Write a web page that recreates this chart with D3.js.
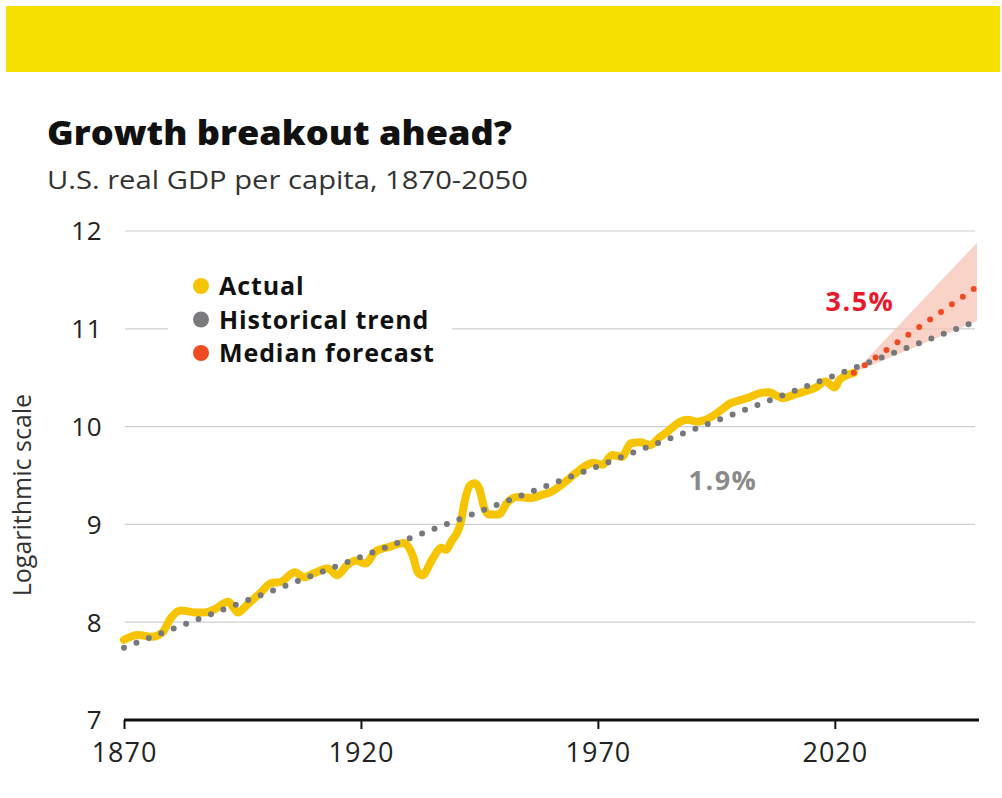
<!DOCTYPE html>
<html>
<head>
<meta charset="utf-8">
<script src="https://cdn.jsdelivr.net/npm/d3@7"></script>
<style>
  html, body { margin: 0; padding: 0; background: #fff; }
  svg { display: block; font-family: "Open Sans", Lato, sans-serif; }
</style>
</head>
<body>
<div id="wrapper"></div>
<script>
const width = 1002
const height = 798

// actual series (log of real GDP per capita)
const actualYears = [1870, 1873, 1876, 1878, 1880, 1882, 1885, 1887, 1889, 1892, 1894, 1896, 1899,
  1901, 1903, 1906, 1908, 1910, 1913, 1915, 1917, 1919, 1921, 1923, 1926, 1929, 1931, 1932, 1933,
  1935, 1937, 1938, 1939, 1941, 1942, 1943, 1944, 1945, 1946, 1947, 1949, 1951, 1953, 1956, 1958,
  1960, 1963, 1966, 1969, 1971, 1973, 1975, 1977, 1979, 1981, 1983, 1985, 1987, 1989, 1991, 1994,
  1996, 1998, 2000, 2002, 2004, 2006, 2008, 2009, 2011, 2013, 2016, 2018, 2020, 2021, 2024]
const actualValues = [7.82, 7.87, 7.85, 7.89, 8.05, 8.12, 8.10, 8.10, 8.13, 8.21, 8.10, 8.18, 8.31,
  8.40, 8.41, 8.51, 8.46, 8.50, 8.55, 8.48, 8.58, 8.63, 8.60, 8.72, 8.77, 8.81, 8.67, 8.51, 8.48,
  8.64, 8.76, 8.74, 8.82, 9.01, 9.26, 9.40, 9.42, 9.36, 9.17, 9.10, 9.10, 9.23, 9.28, 9.27, 9.30,
  9.33, 9.43, 9.55, 9.63, 9.61, 9.71, 9.69, 9.83, 9.84, 9.81, 9.89, 9.96, 10.04, 10.07, 10.05, 10.10,
  10.17, 10.24, 10.27, 10.30, 10.34, 10.35, 10.31, 10.29, 10.32, 10.35, 10.40, 10.46, 10.40, 10.48, 10.55]

const trendYears = [1870, 2050]
const trendValues = [7.74, 11.08]

const forecastYears = [2024, 2050]
const forecastValues = [10.55, 11.43]
const bandUpper = [10.55, 11.88]
const bandLower = [10.55, 11.08]

const yTicks = [7, 8, 9, 10, 11, 12]
const xTicks = [1870, 1920, 1970, 2020]

const legendLabels = ["Actual", "Historical trend", "Median forecast"]
const legendColors = ["#f6c400", "#7b7b7d", "#f04a23"]

const x = d3.scaleLinear().domain([1870, 2050]).range([124, 977])
const y = d3.scaleLinear().domain([7, 12]).range([720, 231])

const svg = d3.select("#wrapper").append("svg")
    .attr("width", width)
    .attr("height", height)

// yellow header band
svg.append("rect")
    .attr("x", 6).attr("y", 6)
    .attr("width", 994).attr("height", 66)
    .attr("fill", "#f5e000")

svg.append("text")
    .attr("x", 47).attr("y", 145)
    .attr("font-size", 34).attr("font-weight", 800)
    .attr("fill", "#111")
    .attr("textLength", 465).attr("lengthAdjust", "spacingAndGlyphs")
    .text("Growth breakout ahead?")

svg.append("text")
    .attr("x", 47).attr("y", 189)
    .attr("font-size", 25)
    .attr("fill", "#333")
    .attr("textLength", 481).attr("lengthAdjust", "spacingAndGlyphs")
    .text("U.S. real GDP per capita, 1870-2050")

// gridlines + y labels
const grid = svg.append("g")
grid.selectAll("line")
    .data(yTicks.filter(d => d > 7))
    .join("line")
    .attr("x1", 125).attr("x2", 975)
    .attr("y1", d => y(d)).attr("y2", d => y(d))
    .attr("stroke", "#cfcfcf").attr("stroke-width", 1.2)

grid.selectAll("text")
    .data(yTicks)
    .join("text")
    .attr("x", 102).attr("y", d => y(d))
    .attr("dy", "0.36em")
    .attr("text-anchor", "end")
    .attr("font-size", 26)
    .attr("letter-spacing", 0.5)
    .attr("fill", "#222")
    .text(d => d)

svg.append("text")
    .attr("transform", `translate(31, ${y(9.3)}) rotate(-90)`)
    .attr("text-anchor", "middle")
    .attr("font-size", 25)
    .attr("fill", "#333")
    .text("Logarithmic scale")

// x axis
const xAxis = d3.axisBottom(x).tickValues(xTicks).tickSize(9).tickFormat(d3.format("d"))
const gx = svg.append("g")
    .attr("transform", `translate(0, ${y(7)})`)
    .call(xAxis)
gx.select(".domain").attr("stroke", "#111").attr("stroke-width", 3)
    .attr("d", `M${x(1870)},0H${x(2050) + 2}`)
gx.selectAll(".tick line").attr("stroke", "#111").attr("stroke-width", 2)
gx.selectAll(".tick text")
    .attr("font-family", "'Open Sans', sans-serif")
    .attr("font-size", 27)
    .attr("letter-spacing", 1)
    .attr("fill", "#222")
    .attr("dy", "1.1em")

// forecast band
const band = d3.area()
    .x((d, i) => x(forecastYears[i]))
    .y0((d, i) => y(bandLower[i]))
    .y1((d, i) => y(bandUpper[i]))
svg.append("path")
    .datum(forecastYears)
    .attr("d", band)
    .attr("fill", "#f7c3b6")
    .attr("fill-opacity", 0.75)

// actual line
const line = d3.line()
    .x((d, i) => x(actualYears[i]))
    .y(d => y(d))
    .curve(d3.curveMonotoneX)
svg.append("path")
    .datum(actualValues)
    .attr("d", line)
    .attr("fill", "none")
    .attr("stroke", "#f6c400")
    .attr("stroke-width", 8)
    .attr("stroke-linejoin", "round")
    .attr("stroke-linecap", "round")

// trend dots
svg.append("path")
    .datum(trendValues)
    .attr("d", d3.line().x((d, i) => x(trendYears[i])).y(d => y(d)))
    .attr("fill", "none")
    .attr("stroke", "#77787b")
    .attr("stroke-width", 6)
    .attr("stroke-linecap", "round")
    .attr("stroke-dasharray", "0 13.3")

// forecast dots
svg.append("path")
    .datum(forecastValues)
    .attr("d", d3.line().x((d, i) => x(forecastYears[i])).y(d => y(d)))
    .attr("fill", "none")
    .attr("stroke", "#f04a23")
    .attr("stroke-width", 6)
    .attr("stroke-linecap", "round")
    .attr("stroke-dasharray", "0 13.3")

// rate labels
svg.append("text")
    .attr("x", 860).attr("y", 311)
    .attr("text-anchor", "middle")
    .attr("font-size", 27).attr("font-weight", 700)
    .attr("letter-spacing", 1.5)
    .attr("fill", "#e8192c")
    .text("3.5%")

svg.append("text")
    .attr("x", 723).attr("y", 490)
    .attr("text-anchor", "middle")
    .attr("font-size", 27).attr("font-weight", 700)
    .attr("letter-spacing", 1.5)
    .attr("fill", "#8a8a8a")
    .text("1.9%")

// legend
const legend = svg.append("g")
legend.append("rect")
    .attr("x", 168).attr("y", 266)
    .attr("width", 284).attr("height", 106)
    .attr("fill", "#fff")
const item = legend.selectAll("g")
    .data(legendLabels)
    .join("g")
    .attr("transform", (d, i) => `translate(201, ${286 + i * 33.5})`)
item.append("circle")
    .attr("r", 8)
    .attr("fill", (d, i) => legendColors[i])
item.append("text")
    .attr("x", 18).attr("dy", "0.36em")
    .attr("font-size", 25).attr("font-weight", 700)
    .attr("letter-spacing", 0.9)
    .attr("fill", "#111")
    .text(d => d)
</script>
</body>
</html>
